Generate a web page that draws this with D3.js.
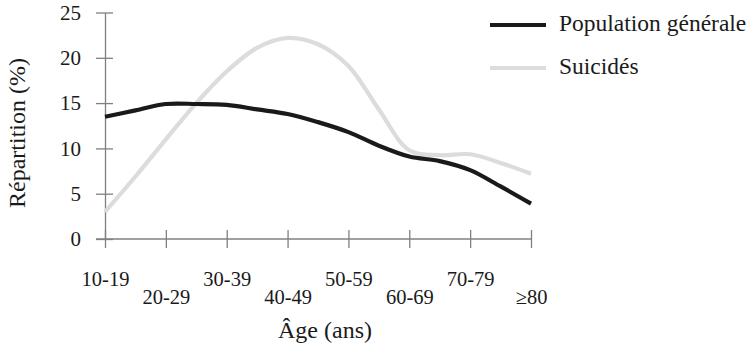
<!DOCTYPE html>
<html><head><meta charset="utf-8">
<script src="https://cdn.jsdelivr.net/npm/d3@7"></script>
<style>
html,body{margin:0;padding:0;background:#fff;}
</style></head>
<body><svg id="c" width="746" height="357"></svg>
<script>
const categories = ["10-19","20-29","30-39","40-49","50-59","60-69","70-79","≥80"];
// values read at each category and halfway between categories (5-year steps)
const positions = [0,0.5,1,1.5,2,2.5,3,3.5,4,4.5,5,5.5,6,6.5,7];
const populationGenerale = [13.5,14.2,14.9,14.9,14.8,14.3,13.8,12.9,11.8,10.3,9.1,8.6,7.6,5.8,3.9];
const suicides = [3.0,6.9,11.0,15.0,18.5,21.1,22.2,21.5,19.1,14.3,9.8,9.25,9.35,8.4,7.2];
const yTicks = [0,5,10,15,20,25];
const seriesNames = ["Population générale","Suicidés"];
const seriesColors = ["#1a1a1a","#dcdcdc"];

const FONT = '"Liberation Serif"';
const svg = d3.select("#c");
const x = d3.scaleLinear().domain([0,7]).range([105,531]);
const y = d3.scaleLinear().domain([0,25]).range([239,12.5]);
const axisColor = "#808080";

// y axis
const ya = svg.append("g").attr("transform","translate(105,0)")
  .call(d3.axisLeft(y).tickValues(yTicks).tickSize(0).tickPadding(24));
ya.attr("font-family",null);
ya.select(".domain").attr("stroke",axisColor).attr("stroke-width",1.3);
ya.selectAll(".tick text").attr("font-size",21).style("font-family",FONT).attr("fill","#1a1a1a");
ya.selectAll(".tick").append("line").attr("x1",-9).attr("x2",8).attr("stroke",axisColor).attr("stroke-width",1.3);

// x axis
const xa = svg.append("g").attr("transform","translate(0,239)")
  .call(d3.axisBottom(x).tickValues(d3.range(categories.length)).tickSize(0).tickFormat(i=>categories[i]));
xa.attr("font-family",null);
xa.select(".domain").remove();
xa.append("line").attr("x1",96).attr("x2",531).attr("stroke",axisColor).attr("stroke-width",1.3);
xa.selectAll(".tick").append("line").attr("y1",-9).attr("y2",9).attr("stroke",axisColor).attr("stroke-width",1.3);
xa.selectAll(".tick text").attr("font-size",20.5).style("font-family",FONT).attr("fill","#1a1a1a")
  .attr("dy",null).attr("y",(d,i)=> i%2===0 ? 47 : 65);

// axis titles
svg.append("text").attr("x",325).attr("y",338).attr("text-anchor","middle").attr("font-size",24)
  .style("font-family",FONT).attr("fill","#1a1a1a").text("Âge (ans)");
svg.append("text").attr("transform","translate(25,133) rotate(-90)").attr("text-anchor","middle").attr("font-size",24)
  .style("font-family",FONT).attr("fill","#1a1a1a").text("Répartition (%)");

// lines
const line = d3.line().x(d=>x(d[0])).y(d=>y(d[1])).curve(d3.curveCatmullRom.alpha(0.5));
[suicides,populationGenerale].forEach((vals,k)=>{
  const idx = k===0?1:0;
  svg.append("path").datum(positions.map((p,i)=>[p,vals[i]]))
    .attr("d",line).attr("fill","none").attr("stroke",seriesColors[idx])
    .attr("stroke-width",4.2).attr("stroke-linejoin","round");
});

// legend
const legY = [25,68];
seriesNames.forEach((n,i)=>{
  svg.append("line").attr("x1",490).attr("x2",546).attr("y1",legY[i]).attr("y2",legY[i])
    .attr("stroke",seriesColors[i]).attr("stroke-width",4.2);
  svg.append("text").attr("x",559).attr("y",legY[i]+6).attr("font-size",23.5)
    .style("font-family",FONT).attr("fill","#1a1a1a").text(n);
});
</script></body></html>
